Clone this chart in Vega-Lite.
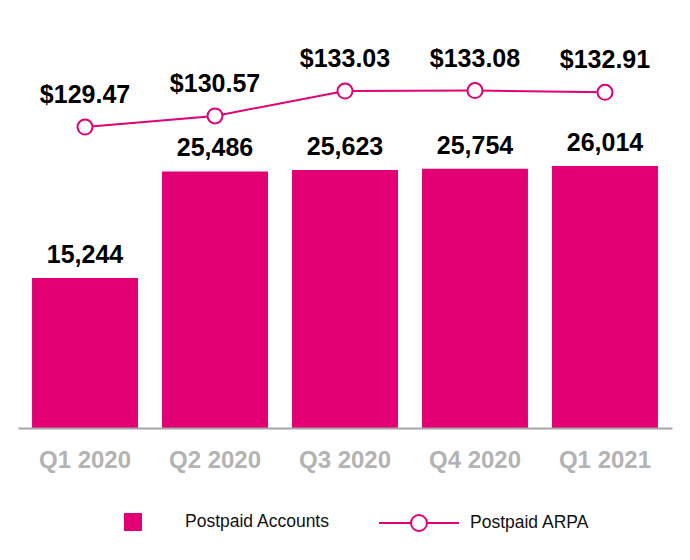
{
  "$schema": "https://vega.github.io/schema/vega-lite/v6.json",
  "width": 654,
  "height": 408,
  "autosize": {"type": "none"},
  "padding": {"left": 18, "top": 20, "right": 18, "bottom": 132},
  "background": "white",
  "config": {
    "view": {"stroke": null},
    "font": "Liberation Sans"
  },
  "data": {
    "values": [
      {"quarter": "Q1 2020", "accounts": 15244, "arpa": 129.47},
      {"quarter": "Q2 2020", "accounts": 25486, "arpa": 130.57},
      {"quarter": "Q3 2020", "accounts": 25623, "arpa": 133.03},
      {"quarter": "Q4 2020", "accounts": 25754, "arpa": 133.08},
      {"quarter": "Q1 2021", "accounts": 26014, "arpa": 132.91}
    ]
  },
  "encoding": {
    "x": {
      "field": "quarter",
      "type": "nominal",
      "sort": null,
      "scale": {"paddingInner": 0.185, "paddingOuter": 0.108},
      "axis": {
        "title": null,
        "labelAngle": 0,
        "ticks": false,
        "tickSize": 0,
        "labelPadding": 20,
        "labelFont": "Liberation Sans",
        "labelFontSize": 24,
        "labelFontWeight": "bold",
        "labelColor": "#b3b3b3",
        "domainColor": "#a6a6a6",
        "domainWidth": 2,
        "grid": false,
        "zindex": 1
      }
    }
  },
  "layer": [
    {
      "mark": {"type": "bar"},
      "encoding": {
        "y": {"field": "accounts", "type": "quantitative", "scale": {"domain": [817, 40047], "zero": false, "nice": false}, "axis": null},
        "y2": {"datum": 817},
        "color": {
          "datum": "Postpaid Accounts",
          "scale": {"range": ["#E20074"]},
          "legend": {
            "orient": "none",
            "legendX": 105,
            "legendY": 492,
            "title": null,
            "padding": 0,
            "symbolType": "square",
            "symbolSize": 324,
            "labelFont": "Liberation Sans",
            "labelFontSize": 17.5,
            "labelColor": "#111111",
            "labelOffset": 42
          }
        }
      }
    },
    {
      "mark": {"type": "text", "dy": -15, "baseline": "alphabetic", "font": "Liberation Sans", "fontSize": 25, "fontWeight": "bold", "color": "#000000"},
      "encoding": {
        "y": {"field": "accounts", "type": "quantitative", "scale": {"domain": [817, 40047], "zero": false, "nice": false}, "axis": null},
        "text": {"field": "accounts", "type": "quantitative", "format": ","}
      }
    },
    {
      "mark": {"type": "line", "strokeWidth": 2},
      "encoding": {
        "y": {"field": "arpa", "type": "quantitative", "scale": {"domain": [99.67, 140.07], "zero": false, "nice": false}, "axis": null},
        "stroke": {
          "datum": "Postpaid ARPA",
          "scale": {"range": ["#E20074"]},
          "legend": {
            "orient": "none",
            "legendX": 360,
            "legendY": 462,
            "title": null,
            "padding": 0,
            "symbolType": "M-1,0L-0.2,0M0.2,0L1,0M0.2,0A0.2,0.2,0,1,1,-0.2,0A0.2,0.2,0,1,1,0.2,0",
            "symbolSize": 6400,
            "symbolStrokeWidth": 2,
            "symbolFillColor": "white",
            "labelFont": "Liberation Sans",
            "labelFontSize": 17.5,
            "labelColor": "#111111",
            "labelOffset": 10
          }
        }
      }
    },
    {
      "mark": {"type": "point", "filled": true, "fill": "white", "stroke": "#E20074", "strokeWidth": 2, "size": 225, "opacity": 1},
      "encoding": {
        "y": {"field": "arpa", "type": "quantitative", "scale": {"domain": [99.67, 140.07], "zero": false, "nice": false}, "axis": null}
      }
    },
    {
      "mark": {"type": "text", "dy": -24, "baseline": "alphabetic", "font": "Liberation Sans", "fontSize": 25, "fontWeight": "bold", "color": "#000000"},
      "encoding": {
        "y": {"field": "arpa", "type": "quantitative", "scale": {"domain": [99.67, 140.07], "zero": false, "nice": false}, "axis": null},
        "text": {"field": "arpa", "type": "quantitative", "format": "$,.2f"}
      }
    }
  ],
  "resolve": {"scale": {"y": "independent"}}
}
